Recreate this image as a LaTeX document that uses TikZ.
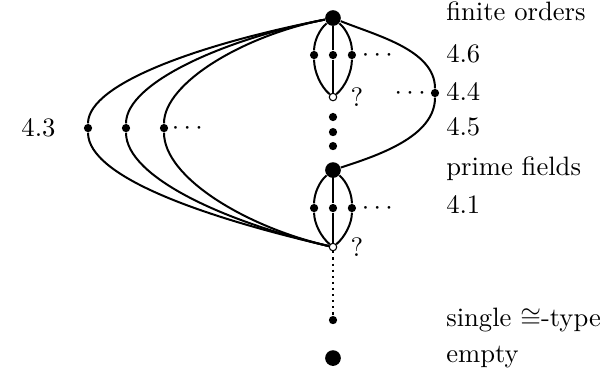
\documentclass[tikz,border=0pt]{standalone}
\usepackage{amssymb}
\usepackage{amsmath}
\usepackage{tikz}
\usetikzlibrary{positioning}

\begin{document}
\begin{tikzpicture}[
  x=1cm,
  y=1cm,
  edge/.style={line width=0.75pt, draw=black},
  big/.style={circle, fill=black, inner sep=0pt, minimum size=5.9pt},
  dot/.style={circle, fill=black, inner sep=0pt, minimum size=3.1pt},
  hole/.style={circle, draw=black, fill=white, line width=0.4pt,
    inner sep=0pt, minimum size=2.8pt},
  lbl/.style={anchor=base west, inner sep=0pt},
  more/.style={inner sep=0pt}
]
\useasboundingbox (-4.400,-0.225) rectangle (3.581,4.731);

% main chain
\node[big] (fin) at (0,4.493) {};
\node[dot] (a1) at (-0.25,4.004) {};
\node[dot] (a2) at (0,4.004) {};
\node[dot] (a3) at (0.25,4.004) {};
\node[hole] (q1) at (0,3.449) {};
\node[dot] (r) at (1.348,3.502) {};
\node[dot] (v1) at (0,3.185) {};
\node[dot] (v2) at (0,2.986) {};
\node[dot] (v3) at (0,2.801) {};
\node[big] (prime) at (0,2.484) {};
\node[dot] (b1) at (-0.25,1.982) {};
\node[dot] (b2) at (0,1.982) {};
\node[dot] (b3) at (0.25,1.982) {};
\node[hole] (q2) at (0,1.467) {};
\node[dot] (one) at (0,0.502) {};
\node[big] (empty) at (0,0) {};

% left family
\node[dot] (l1) at (-3.237,3.039) {};
\node[dot] (l2) at (-2.735,3.039) {};
\node[dot] (l3) at (-2.233,3.039) {};

\draw[edge] (fin) to[out=-140,in=90,looseness=0.8] (a1)
  to[out=-90,in=140,looseness=0.8] (q1);
\draw[edge] (fin) -- (a2) -- (q1);
\draw[edge] (fin) to[out=-40,in=90,looseness=0.8] (a3)
  to[out=-90,in=40,looseness=0.8] (q1);
\draw[edge] (prime) to[out=-140,in=90,looseness=0.8] (b1)
  to[out=-90,in=140,looseness=0.8] (q2);
\draw[edge] (prime) -- (b2) -- (q2);
\draw[edge] (prime) to[out=-40,in=90,looseness=0.8] (b3)
  to[out=-90,in=40,looseness=0.8] (q2);
\draw[edge] (fin) to[out=-22,in=90,looseness=0.85] (r)
  to[out=-90,in=18,looseness=0.85] (prime);
\foreach \n/\L in {l1/1.72,l2/1.45,l3/1.19}
  \draw[edge] (fin) .. controls +(191:\L) and +(90:0.6) .. (\n)
    .. controls +(-90:0.65) and +(167:\L) .. (q2);
\draw[edge, dash pattern=on 0.8pt off 1.5pt] (q2) -- (one);

% dots and question marks
\node[more, anchor=base west] (c1) at (0.375,3.916) {$\cdots$};
\node[more, anchor=base west] (c2) at (0.375,1.894) {$\cdots$};
\node[more, anchor=base east] (c3) at (1.291,3.414) {$\cdots$};
\node[more, anchor=base west] (c4) at (-2.137,2.951) {$\cdots$};
\node[lbl] (u1) at (0.225,3.33) {?};
\node[lbl] (u2) at (0.225,1.348) {?};

% labels
\node[lbl] (tfin) at (1.49,4.466) {finite orders};
\node[lbl] (t46) at (1.49,3.911) {4.6};
\node[lbl] (t44) at (1.49,3.409) {4.4};
\node[lbl] (t45) at (1.49,2.947) {4.5};
\node[lbl] (tprime) at (1.49,2.418) {prime fields};
\node[lbl] (t41) at (1.49,1.916) {4.1};
\node[lbl] (tone) at (1.49,0.423) {single $\cong$-type};
\node[lbl] (tempty) at (1.49,-0.053) {empty};
\node[lbl] (t43) at (-4.123,2.934) {4.3};

\end{tikzpicture}
\end{document}
